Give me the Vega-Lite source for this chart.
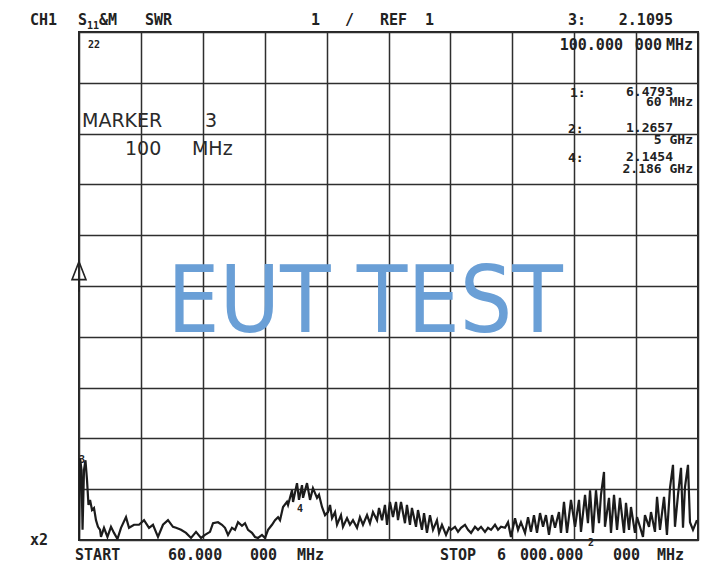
{
  "$schema": "https://vega.github.io/schema/vega-lite/v6.json",
  "width": 619,
  "height": 508,
  "autosize": {"type": "none"},
  "padding": {"left": 79, "top": 32, "right": 19, "bottom": 41},
  "background": "#ffffff",
  "config": {"view": {"stroke": "#262626", "strokeWidth": 2}},
  "datasets": {
    "trace": [
      {"f":60,"s":1.00},{"f":70,"s":2.61},{"f":84,"s":2.38},{"f":94,"s":1.20},{"f":108,"s":2.38},{"f":122,"s":2.57},{"f":137,"s":2.18},{"f":151,"s":1.69},{"f":166,"s":1.79},{"f":185,"s":1.59},{"f":204,"s":1.63},{"f":223,"s":1.39},{"f":242,"s":1.26},{"f":262,"s":1.20},{"f":271,"s":1.06},{"f":300,"s":1.24},{"f":333,"s":1.06},{"f":367,"s":1.26},{"f":396,"s":1.14},{"f":429,"s":1.02},{"f":463,"s":1.24},{"f":511,"s":1.45},{"f":540,"s":1.24},{"f":588,"s":1.30},{"f":636,"s":1.30},{"f":684,"s":1.39},{"f":732,"s":1.24},{"f":770,"s":1.30},{"f":818,"s":1.06},{"f":866,"s":1.30},{"f":914,"s":1.39},{"f":962,"s":1.26},{"f":991,"s":1.24},{"f":1039,"s":1.20},{"f":1087,"s":1.14},{"f":1135,"s":1.04},{"f":1183,"s":1.16},{"f":1231,"s":1.04},
      {"f":1269,"s":1.10},{"f":1317,"s":1.16},{"f":1346,"s":1.33},{"f":1394,"s":1.35},{"f":1432,"s":1.30},{"f":1461,"s":1.24},{"f":1490,"s":1.10},{"f":1528,"s":1.24},{"f":1557,"s":1.20},{"f":1586,"s":1.35},{"f":1624,"s":1.28},{"f":1653,"s":1.33},{"f":1682,"s":1.20},{"f":1720,"s":1.14},{"f":1749,"s":1.06},{"f":1778,"s":1.04},{"f":1816,"s":1.10},{"f":1845,"s":1.04},{"f":1874,"s":1.20},{"f":1912,"s":1.30},{"f":1941,"s":1.39},{"f":1970,"s":1.45},{"f":1989,"s":1.39},{"f":2018,"s":1.65},{"f":2056,"s":1.75},{"f":2066,"s":1.69},{"f":2104,"s":1.98},{"f":2114,"s":1.75},{"f":2152,"s":2.12},{"f":2171,"s":1.79},{"f":2200,"s":2.08},{"f":2210,"s":1.83},{"f":2248,"s":2.12},{"f":2277,"s":1.79},{"f":2305,"s":2.02},{"f":2344,"s":1.83},{"f":2363,"s":1.89},{"f":2392,"s":1.65},{"f":2421,"s":1.49},{"f":2449,"s":1.55},
      {"f":2469,"s":1.69},{"f":2488,"s":1.43},{"f":2517,"s":1.55},{"f":2536,"s":1.30},{"f":2574,"s":1.49},{"f":2593,"s":1.26},{"f":2632,"s":1.43},{"f":2660,"s":1.30},{"f":2689,"s":1.39},{"f":2728,"s":1.24},{"f":2756,"s":1.45},{"f":2785,"s":1.30},{"f":2824,"s":1.49},{"f":2852,"s":1.33},{"f":2881,"s":1.55},{"f":2920,"s":1.39},{"f":2939,"s":1.63},{"f":2968,"s":1.39},{"f":2996,"s":1.69},{"f":3016,"s":1.30},{"f":3044,"s":1.75},{"f":3073,"s":1.45},{"f":3102,"s":1.75},{"f":3121,"s":1.39},{"f":3150,"s":1.75},{"f":3188,"s":1.33},{"f":3207,"s":1.69},{"f":3236,"s":1.30},{"f":3255,"s":1.63},{"f":3294,"s":1.26},{"f":3313,"s":1.59},{"f":3351,"s":1.20},{"f":3371,"s":1.53},{"f":3399,"s":1.14},{"f":3428,"s":1.49},{"f":3457,"s":1.20},{"f":3495,"s":1.39},{"f":3515,"s":1.14},{"f":3543,"s":1.30},{"f":3582,"s":1.10},{"f":3611,"s":1.24},
      {"f":3630,"s":1.20},{"f":3668,"s":1.26},{"f":3697,"s":1.16},{"f":3726,"s":1.24},{"f":3764,"s":1.30},{"f":3793,"s":1.20},{"f":3822,"s":1.14},{"f":3860,"s":1.26},{"f":3889,"s":1.20},{"f":3918,"s":1.26},{"f":3956,"s":1.16},{"f":3985,"s":1.24},{"f":4014,"s":1.20},{"f":4052,"s":1.30},{"f":4081,"s":1.20},{"f":4110,"s":1.26},{"f":4148,"s":1.24},{"f":4177,"s":1.35},{"f":4205,"s":1.06},{"f":4244,"s":1.43},{"f":4273,"s":1.20},{"f":4301,"s":1.35},{"f":4340,"s":1.14},{"f":4369,"s":1.45},{"f":4397,"s":1.16},{"f":4426,"s":1.49},{"f":4455,"s":1.14},{"f":4484,"s":1.53},{"f":4513,"s":1.26},{"f":4541,"s":1.49},{"f":4570,"s":1.10},{"f":4599,"s":1.49},{"f":4628,"s":1.24},{"f":4666,"s":1.55},{"f":4685,"s":1.14},{"f":4714,"s":1.75},{"f":4743,"s":1.14},{"f":4781,"s":1.79},
      {"f":4820,"s":1.26},{"f":4858,"s":1.79},{"f":4877,"s":1.16},{"f":4916,"s":1.89},{"f":4944,"s":1.33},{"f":4964,"s":1.98},{"f":4992,"s":1.14},{"f":5021,"s":1.98},{"f":5050,"s":1.33},{"f":5069,"s":1.89},{"f":5098,"s":2.34},{"f":5107,"s":1.26},{"f":5146,"s":1.83},{"f":5165,"s":1.14},{"f":5194,"s":1.89},{"f":5223,"s":1.20},{"f":5251,"s":1.83},{"f":5290,"s":1.14},{"f":5309,"s":1.73},{"f":5338,"s":1.20},{"f":5357,"s":1.65},{"f":5395,"s":1.14},{"f":5415,"s":1.45},{"f":5443,"s":1.26},{"f":5472,"s":1.06},{"f":5491,"s":1.49},{"f":5530,"s":1.26},{"f":5549,"s":1.55},{"f":5587,"s":1.16},{"f":5607,"s":1.85},{"f":5635,"s":1.20},{"f":5674,"s":1.85},{"f":5702,"s":1.10},{"f":5731,"s":2.02},{"f":5760,"s":2.48},{"f":5779,"s":1.26},{"f":5808,"s":1.89},{"f":5837,"s":2.42},{"f":5856,"s":1.24},{"f":5875,"s":2.04},{"f":5904,"s":2.48},{"f":5923,"s":1.35},{"f":5952,"s":1.20},{"f":5990,"s":1.39}
    ],
    "hdr": [
      {"t":"CH1","f":-410,"s":11.14},
      {"t":"S","f":50,"s":11.14},
      {"t":"&M","f":252,"s":11.14},
      {"t":"SWR","f":693,"s":11.14},
      {"t":"1","f":2286,"s":11.14},
      {"t":"/","f":2613,"s":11.14},
      {"t":"REF","f":2948,"s":11.14},
      {"t":"1","f":3380,"s":11.14},
      {"t":"3:","f":4752,"s":11.14},
      {"t":"x2","f":-410,"s":0.90},
      {"t":"START","f":22,"s":0.606},
      {"t":"60.000","f":914,"s":0.606},
      {"t":"000","f":1701,"s":0.606},
      {"t":"MHz","f":2152,"s":0.606},
      {"t":"STOP","f":3524,"s":0.606},
      {"t":"6","f":4071,"s":0.606},
      {"t":"000.000","f":4292,"s":0.606},
      {"t":"000","f":5184,"s":0.606},
      {"t":"MHz","f":5607,"s":0.606}
    ],
    "hdrR": [
      {"t":"2.1095","f":5760,"s":11.14},
      {"t":"100.000","f":5280,"s":10.64},
      {"t":"000","f":5654,"s":10.64},
      {"t":"MHz","f":5952,"s":10.64}
    ],
    "rdL": [
      {"t":"1:","f":4772,"s":9.72},
      {"t":"2:","f":4752,"s":9.01},
      {"t":"4:","f":4752,"s":8.44}
    ],
    "rdR": [
      {"t":"6.4793","f":5760,"s":9.74},
      {"t":"60 MHz","f":5952,"s":9.54},
      {"t":"1.2657","f":5760,"s":9.03},
      {"t":"5 GHz","f":5952,"s":8.80},
      {"t":"2.1454","f":5760,"s":8.46},
      {"t":"2.186 GHz","f":5952,"s":8.22}
    ],
    "big": [
      {"t":"MARKER","f":89,"s":9.13},
      {"t":"3","f":1269,"s":9.13},
      {"t":"100","f":501,"s":8.58},
      {"t":"MHz","f":1144,"s":8.58}
    ],
    "small": [
      {"t":"11","f":137,"s":11.06},
      {"t":"22","f":146,"s":10.68},
      {"t":"3","f":60,"s":2.52},
      {"t":"4","f":2152,"s":1.55},
      {"t":"2","f":4944,"s":0.88}
    ],
    "wm": [{"t":"EUT TEST","f":2804,"s":5.09}],
    "arrow": [{"f":60,"s":6.4793}]
  },
  "layer": [
    {
      "data": {"name": "trace"},
      "mark": {"type": "line", "color": "#1c1c1c", "strokeWidth": 2.2, "clip": true},
      "encoding": {
        "x": {"field": "f", "type": "quantitative", "scale": {"domain": [60, 6000], "nice": false, "zero": false},
              "axis": {"values": [60, 654, 1248, 1842, 2436, 3030, 3624, 4218, 4812, 5406, 6000], "grid": true, "labels": false, "ticks": false, "domain": false, "title": null, "gridColor": "#2e2e2e", "gridWidth": 1.5, "gridOpacity": 1}},
        "y": {"field": "s", "type": "quantitative", "scale": {"domain": [1, 11], "nice": false, "zero": false},
              "axis": {"values": [1, 2, 3, 4, 5, 6, 7, 8, 9, 10, 11], "grid": true, "labels": false, "ticks": false, "domain": false, "title": null, "gridColor": "#2e2e2e", "gridWidth": 1.5, "gridOpacity": 1}}
      }
    },
    {
      "data": {"name": "arrow"},
      "mark": {"type": "point", "shape": "M0,0L-0.35,0.9L0.35,0.9Z M0,0.9L0,1.5", "size": 1600, "filled": false, "color": "#222222", "strokeWidth": 1.6, "opacity": 1},
      "encoding": {
        "x": {"field": "f", "type": "quantitative", "scale": {"domain": [60, 6000], "nice": false, "zero": false}},
        "y": {"field": "s", "type": "quantitative", "scale": {"domain": [1, 11], "nice": false, "zero": false}}
      }
    },
    {
      "data": {"name": "hdr"},
      "mark": {"type": "text", "font": "DejaVu Sans Mono", "fontSize": 15, "fontWeight": "bold", "align": "left", "baseline": "alphabetic", "color": "#222222"},
      "encoding": {
        "x": {"field": "f", "type": "quantitative", "scale": {"domain": [60, 6000], "nice": false, "zero": false}},
        "y": {"field": "s", "type": "quantitative", "scale": {"domain": [1, 11], "nice": false, "zero": false}},
        "text": {"field": "t"}
      }
    },
    {
      "data": {"name": "hdrR"},
      "mark": {"type": "text", "font": "DejaVu Sans Mono", "fontSize": 15, "fontWeight": "bold", "align": "right", "baseline": "alphabetic", "color": "#222222"},
      "encoding": {
        "x": {"field": "f", "type": "quantitative", "scale": {"domain": [60, 6000], "nice": false, "zero": false}},
        "y": {"field": "s", "type": "quantitative", "scale": {"domain": [1, 11], "nice": false, "zero": false}},
        "text": {"field": "t"}
      }
    },
    {
      "data": {"name": "rdL"},
      "mark": {"type": "text", "font": "DejaVu Sans Mono", "fontSize": 13, "fontWeight": "bold", "align": "left", "baseline": "alphabetic", "color": "#222222"},
      "encoding": {
        "x": {"field": "f", "type": "quantitative", "scale": {"domain": [60, 6000], "nice": false, "zero": false}},
        "y": {"field": "s", "type": "quantitative", "scale": {"domain": [1, 11], "nice": false, "zero": false}},
        "text": {"field": "t"}
      }
    },
    {
      "data": {"name": "rdR"},
      "mark": {"type": "text", "font": "DejaVu Sans Mono", "fontSize": 13, "fontWeight": "bold", "align": "right", "baseline": "alphabetic", "color": "#222222"},
      "encoding": {
        "x": {"field": "f", "type": "quantitative", "scale": {"domain": [60, 6000], "nice": false, "zero": false}},
        "y": {"field": "s", "type": "quantitative", "scale": {"domain": [1, 11], "nice": false, "zero": false}},
        "text": {"field": "t"}
      }
    },
    {
      "data": {"name": "big"},
      "mark": {"type": "text", "font": "DejaVu Sans", "fontSize": 19, "align": "left", "baseline": "alphabetic", "color": "#2a2a2a"},
      "encoding": {
        "x": {"field": "f", "type": "quantitative", "scale": {"domain": [60, 6000], "nice": false, "zero": false}},
        "y": {"field": "s", "type": "quantitative", "scale": {"domain": [1, 11], "nice": false, "zero": false}},
        "text": {"field": "t"}
      }
    },
    {
      "data": {"name": "small"},
      "mark": {"type": "text", "font": "DejaVu Sans Mono", "fontSize": 10, "fontWeight": "bold", "align": "left", "baseline": "alphabetic", "color": "#222222"},
      "encoding": {
        "x": {"field": "f", "type": "quantitative", "scale": {"domain": [60, 6000], "nice": false, "zero": false}},
        "y": {"field": "s", "type": "quantitative", "scale": {"domain": [1, 11], "nice": false, "zero": false}},
        "text": {"field": "t"}
      }
    },
    {
      "data": {"name": "wm"},
      "mark": {"type": "text", "font": "DejaVu Sans Condensed, Liberation Sans Narrow, DejaVu Sans", "fontSize": 92, "align": "center", "baseline": "alphabetic", "color": "#6a9fd6"},
      "encoding": {
        "x": {"field": "f", "type": "quantitative", "scale": {"domain": [60, 6000], "nice": false, "zero": false}},
        "y": {"field": "s", "type": "quantitative", "scale": {"domain": [1, 11], "nice": false, "zero": false}},
        "text": {"field": "t"}
      }
    }
  ]
}
